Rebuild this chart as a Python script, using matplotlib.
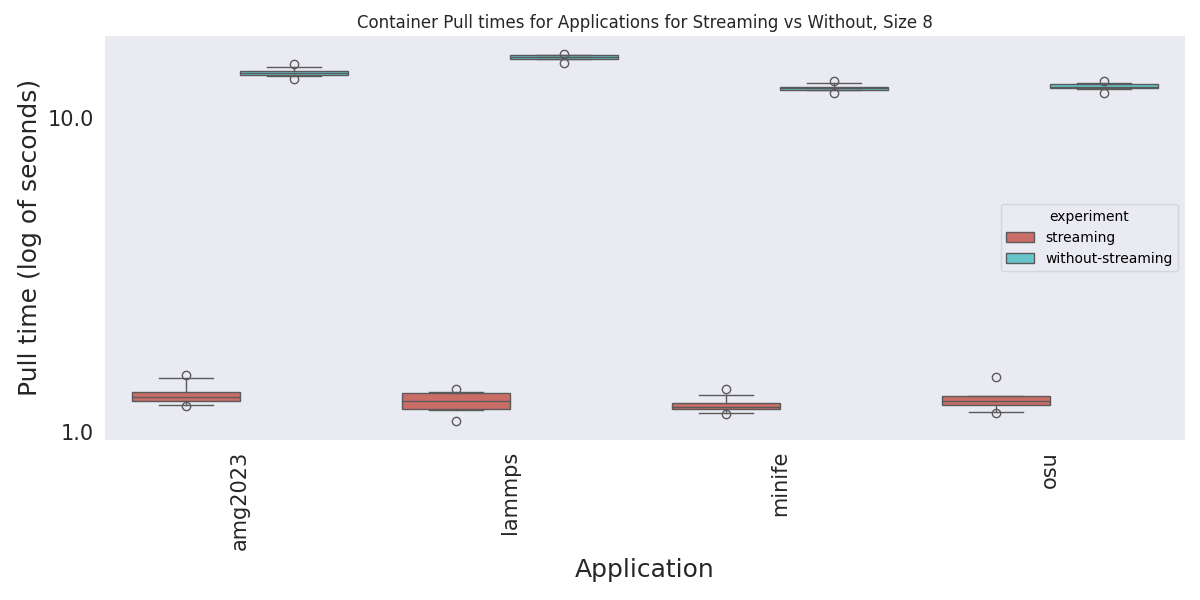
import colorsys
import matplotlib
matplotlib.use("Agg")
import matplotlib.pyplot as plt
from matplotlib.patches import Patch
from matplotlib.ticker import FixedLocator, FormatStrFormatter, NullLocator

# 应用和实验类型
apps = ["amg2023", "lammps", "minife", "osu"]
experiments = ["streaming", "without-streaming"]

# 箱线图统计值（从原图读出, 单位: 秒）
# 每个列表的顺序与 apps 相同
streaming_q1 = [1.250, 1.179, 1.179, 1.214]
streaming_med = [1.290, 1.250, 1.196, 1.256]
streaming_q3 = [1.336, 1.326, 1.238, 1.297]
streaming_whislo = [1.217, 1.170, 1.144, 1.153]
streaming_whishi = [1.480, 1.336, 1.306, 1.297]
streaming_fliers = [[1.517, 1.212], [1.368, 1.082], [1.365, 1.136], [1.491, 1.144]]

nostream_q1 = [13.71, 15.43, 12.34, 12.46]
nostream_med = [13.98, 15.65, 12.45, 12.62]
nostream_q3 = [14.19, 15.88, 12.56, 12.84]
nostream_whislo = [13.65, 15.43, 12.28, 12.44]
nostream_whishi = [14.54, 15.88, 12.97, 12.97]
nostream_fliers = [[14.91, 13.32], [16.04, 14.98], [13.12, 12.07], [13.19, 12.07]]


def desaturate(rgb, prop):
    h, l, s = colorsys.rgb_to_hls(*rgb)
    return colorsys.hls_to_rgb(h, l, s * prop)


# hls 调色板, 饱和度 0.75
colors = [desaturate((0.86, 0.3712, 0.34), 0.75), desaturate((0.34, 0.8288, 0.86), 0.75)]
line_color = "#5a5a5a"


def make_stats(q1, med, q3, lo, hi, fl):
    stats = []
    for i in range(len(q1)):
        stats.append({"q1": q1[i], "med": med[i], "q3": q3[i],
                      "whislo": lo[i], "whishi": hi[i], "fliers": fl[i]})
    return stats


groups = [
    make_stats(streaming_q1, streaming_med, streaming_q3, streaming_whislo, streaming_whishi, streaming_fliers),
    make_stats(nostream_q1, nostream_med, nostream_q3, nostream_whislo, nostream_whishi, nostream_fliers),
]

fig, ax = plt.subplots(figsize=(12, 6), dpi=100)
fig.subplots_adjust(left=0.0875, right=0.9875, bottom=0.267, top=0.94)
ax.set_facecolor("#eaeaf2")
for sp in ax.spines.values():
    sp.set_visible(False)

width = 0.4
for k, stats in enumerate(groups):
    offset = (k - 0.5) * width
    positions = [i + offset for i in range(len(apps))]
    ax.bxp(stats, positions=positions, widths=width, patch_artist=True,
           manage_ticks=False,
           boxprops=dict(facecolor=colors[k], edgecolor=line_color, linewidth=1.0),
           medianprops=dict(color=line_color, linewidth=1.0),
           whiskerprops=dict(color=line_color, linewidth=1.0),
           capprops=dict(color=line_color, linewidth=1.0),
           flierprops=dict(marker="o", markerfacecolor="none", markeredgecolor=line_color,
                           markersize=6, markeredgewidth=1.0))

ax.set_yscale("log")
ax.set_ylim(0.943, 18.3)
ax.yaxis.set_major_locator(FixedLocator([1.0, 10.0]))
ax.yaxis.set_major_formatter(FormatStrFormatter("%.1f"))
ax.yaxis.set_minor_locator(NullLocator())
ax.set_xlim(-0.5, len(apps) - 0.5)
ax.set_xticks(range(len(apps)))
ax.set_xticklabels(apps, rotation=90)
ax.tick_params(axis="both", length=0, labelsize=15, colors="#262626", pad=8)

ax.set_title("Container Pull times for Applications for Streaming vs Without, Size 8",
             fontsize=12, color="#262626")
ax.set_xlabel("Application", fontsize=18, color="#262626", labelpad=6)
ax.set_ylabel("Pull time (log of seconds)", fontsize=18, color="#262626")

handles = [Patch(facecolor=colors[k], edgecolor=line_color, linewidth=1.0, label=experiments[k])
           for k in range(len(experiments))]
leg = ax.legend(handles=handles, title="experiment", loc="center right",
                fontsize=10, title_fontsize=10, facecolor="#eaeaf2", edgecolor="#d0d0d8")

plt.savefig("out.png")
